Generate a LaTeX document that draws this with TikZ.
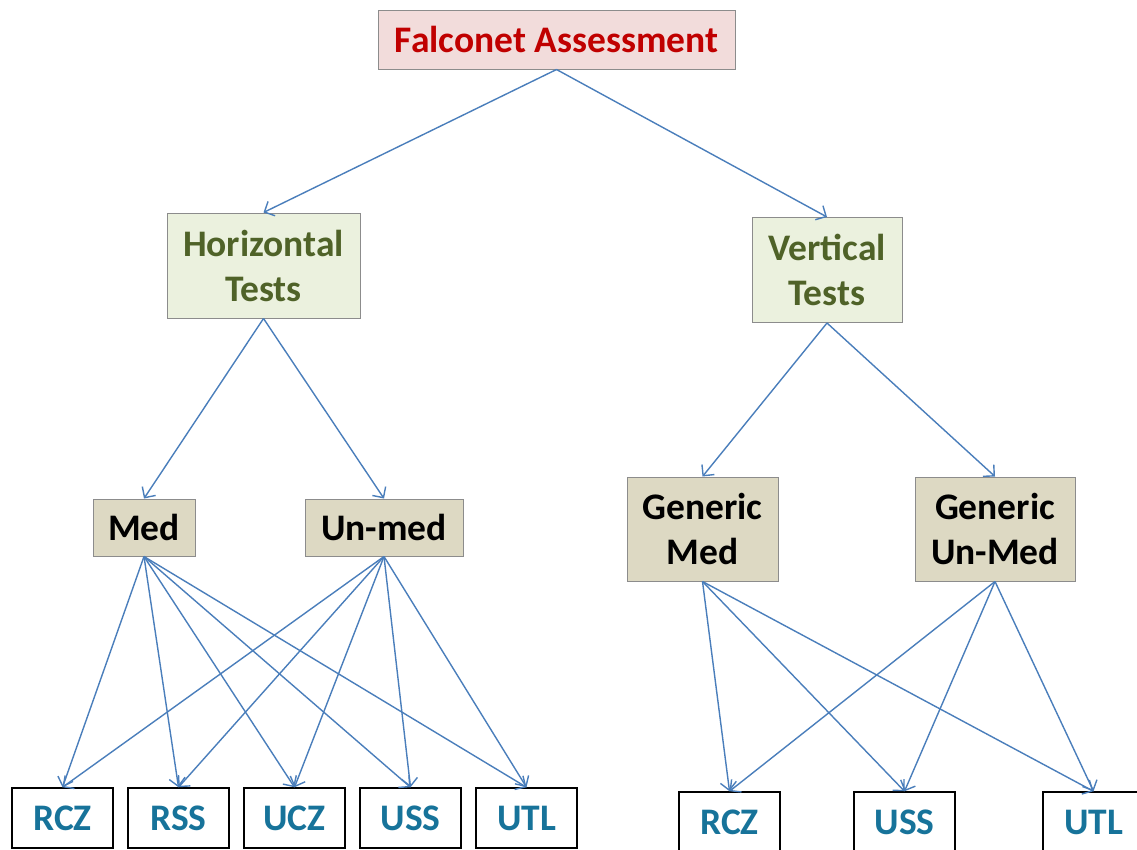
\documentclass[tikz,border=0pt]{standalone}
\usepackage{fontspec}
\setmainfont{Carlito}
\usepackage{tikz}
\usetikzlibrary{shapes,arrows,arrows.meta,positioning}
\definecolor{topfill}{HTML}{F2DCDB}
\definecolor{toptext}{HTML}{C00000}
\definecolor{testfill}{HTML}{EBF1DE}
\definecolor{testtext}{HTML}{4F6228}
\definecolor{medfill}{HTML}{DDD9C3}
\definecolor{leaftext}{HTML}{17739A}
\definecolor{arrowblue}{HTML}{4A7EBB}
\tikzstyle{box} = [rectangle, draw=black!45, line width=1pt, align=center,
    inner sep=0pt, font=\fontsize{37.5}{45}\selectfont\bfseries]
\tikzstyle{root} = [box, fill=topfill, text=toptext, minimum width=357pt, minimum height=59pt]
\tikzstyle{test} = [box, fill=testfill, text=testtext, minimum height=105pt]
\tikzstyle{group} = [box, fill=medfill, text=black]
\tikzstyle{leaf} = [box, draw=black, line width=1.5pt, fill=white, text=leaftext,
    minimum width=101pt, minimum height=60pt]
\tikzstyle{line} = [draw=arrowblue, line width=1.4pt, -{Straight Barb[length=8pt,width=16pt]}]

\begin{document}
\begin{tikzpicture}[x=1pt, y=-1pt]
    \useasboundingbox (0,0) rectangle (1137,849);
    % Place nodes
    \node [root] (fa) at (556.5,39.5) {Falconet Assessment};
    \node [test, minimum width=193pt] (ht) at (263.5,265.5) {Horizontal\\Tests};
    \node [test, minimum width=150pt] (vt) at (827,270) {Vertical\\Tests};
    \node [group, minimum width=102pt, minimum height=57pt] (med) at (144,527.5) {Med};
    \node [group, minimum width=158pt, minimum height=57pt] (unmed) at (384,527.5) {Un-med};
    \node [group, minimum width=151pt, minimum height=104pt] (gmed) at (702.5,529) {Generic\\Med};
    \node [group, minimum width=160pt, minimum height=104pt] (gunmed) at (995,529) {Generic\\Un-Med};
    % left leaves
    \node [leaf] (rczl) at (62.5,818) {RCZ};
    \node [leaf, right=13.5pt of rczl] (rssl) {RSS};
    \node [leaf, right=13.5pt of rssl] (uczl) {UCZ};
    \node [leaf, right=13.5pt of uczl] (ussl) {USS};
    \node [leaf, right=13.5pt of ussl] (utll) {UTL};
    % right leaves
    \node [leaf] (rczr) at (729.5,822) {RCZ};
    \node [leaf, right=72.5pt of rczr] (ussr) {USS};
    \node [leaf, right=86.5pt of ussr] (utlr) {UTL};

  \path [line] (fa.south) -- (ht.north);
  \path [line] (fa.south) -- (vt.north);
  \path [line] (ht.south) -- (med.north);
  \path [line] (ht.south) -- (unmed.north);
  \path [line] (vt.south) -- (gmed.north);
  \path [line] (vt.south) -- (gunmed.north);
  \foreach \leaf in {rczl,rssl,uczl,ussl,utll} {
    \path [line] (med.south) -- (\leaf.north);
    \path [line] (unmed.south) -- (\leaf.north);
  }
  \foreach \leaf in {rczr,ussr,utlr} {
    \path [line] (gmed.south) -- (\leaf.north);
    \path [line] (gunmed.south) -- (\leaf.north);
  }
\end{tikzpicture}
\end{document}
